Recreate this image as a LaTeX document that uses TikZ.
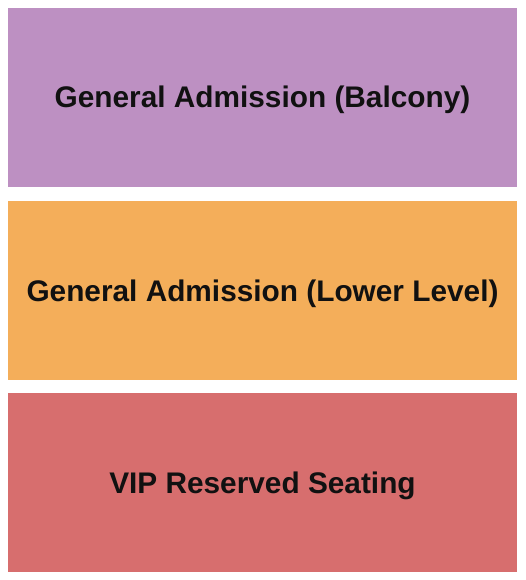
\documentclass[tikz,border=0pt]{standalone}
\usepackage{fontspec}
\setmainfont{Liberation Sans}
\definecolor{balc}{HTML}{BD90C2}
\definecolor{lower}{HTML}{F4AE5A}
\definecolor{vip}{HTML}{D76E6E}
\definecolor{txt}{HTML}{111111}
\begin{document}
\begin{tikzpicture}[x=1pt,y=-1pt,
  section/.style={fill=#1,draw=none},
  lbl/.style={font=\fontsize{29.8}{32}\selectfont\bfseries,text=txt,inner sep=0pt,anchor=base}]
\useasboundingbox (0,0) rectangle (525,580);
\fill[white] (0,0) rectangle (525,580);
\path[section=balc] (8,8) rectangle (517,187);
\path[section=lower] (8,201) rectangle (517,380);
\path[section=vip] (8,393) rectangle (517,572);
\node[lbl] (a) at (262.5,108) {General Admission (Balcony)};
\node[lbl] (b) at (262.5,301) {General Admission (Lower Level)};
\node[lbl] (c) at (262.5,493) {VIP Reserved Seating};
\end{tikzpicture}
\end{document}
